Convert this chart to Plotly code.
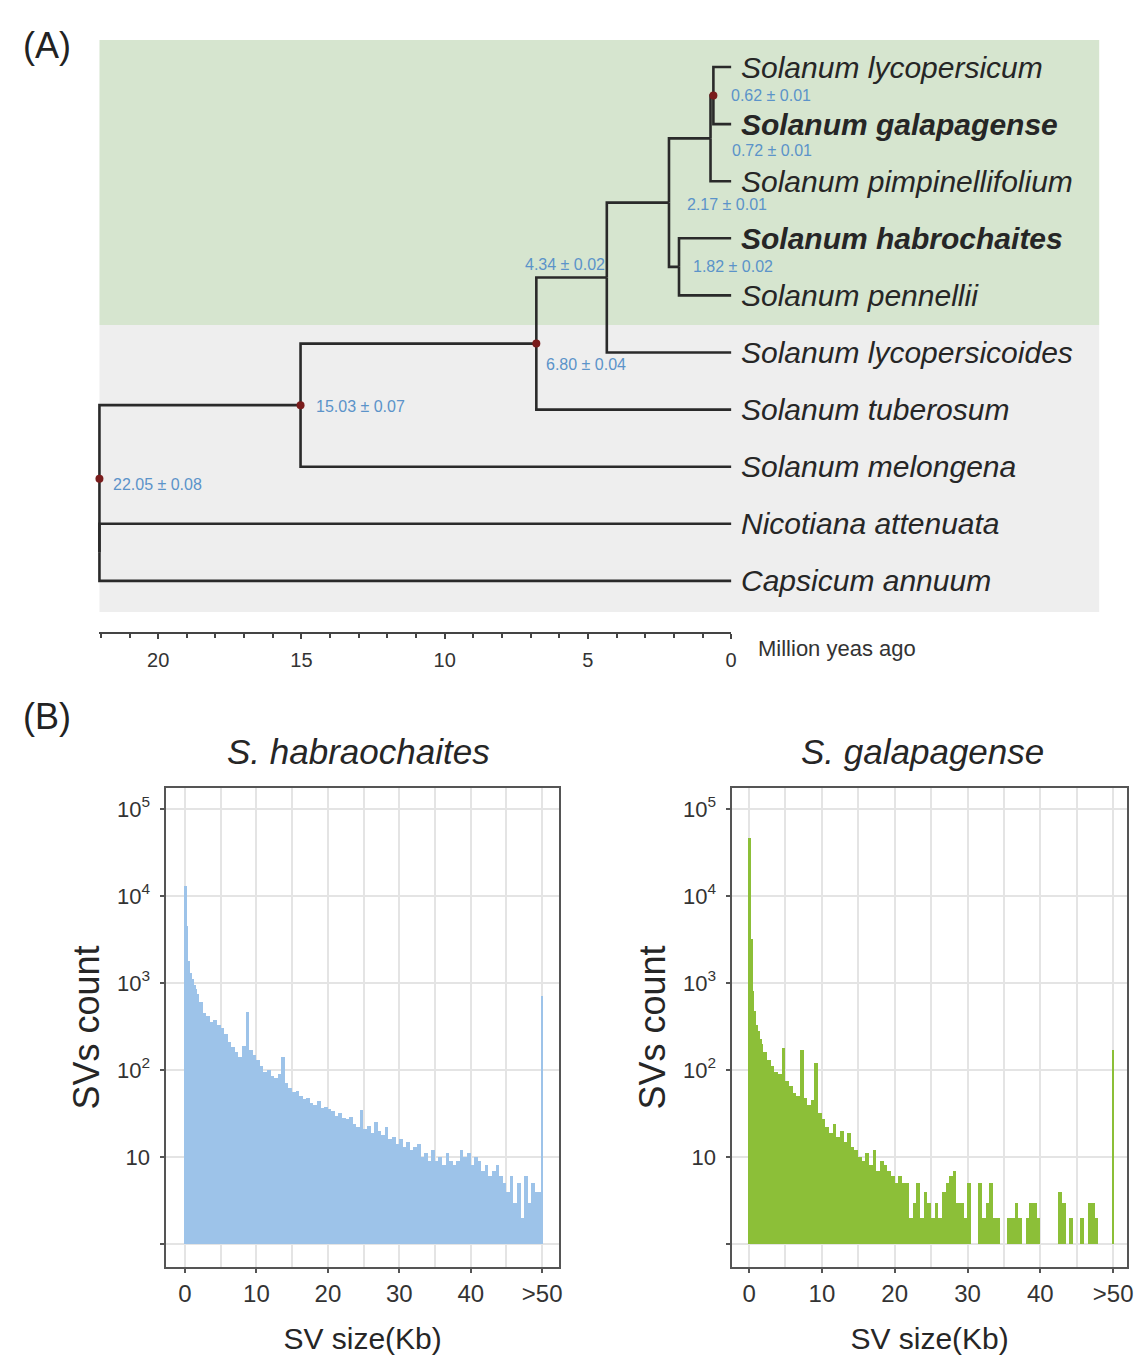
import plotly.graph_objects as go

W, H = 1145, 1361
FONT = "Liberation Sans, Arial, sans-serif"

# ---------------- Panel A: dated phylogeny ----------------
tip_names = [
    "Solanum lycopersicum", "Solanum galapagense", "Solanum pimpinellifolium",
    "Solanum habrochaites", "Solanum pennellii", "Solanum lycopersicoides",
    "Solanum tuberosum", "Solanum melongena", "Nicotiana attenuata", "Capsicum annuum",
]
bold_tips = ["Solanum galapagense", "Solanum habrochaites"]

# internal nodes in post-order (children listed before parents)
node_ids = ["n062", "n072", "n182", "n217", "n434", "n680", "n1503", "nout", "root"]
node_age = [0.62, 0.72, 1.82, 2.17, 4.34, 6.80, 15.03, 22.05, 22.05]  # Myr ago
node_err = [0.01, 0.01, 0.02, 0.01, 0.02, 0.04, 0.07, 0.08, 0.08]
node_children = [
    ["Solanum lycopersicum", "Solanum galapagense"],
    ["n062", "Solanum pimpinellifolium"],
    ["Solanum habrochaites", "Solanum pennellii"],
    ["n072", "n182"],
    ["n217", "Solanum lycopersicoides"],
    ["n434", "Solanum tuberosum"],
    ["n680", "Solanum melongena"],
    ["Nicotiana attenuata", "Capsicum annuum"],
    ["n1503", "nout"],
]
node_has_label = [True, True, True, True, True, True, True, False, True]
node_has_dot = [True, False, False, False, False, True, True, False, True]
time_tick_vals = [0, 5, 10, 15, 20]

# ---------------- Panel B: SV size histograms ----------------
bin_left_kb = [i * 0.25 for i in range(8)] + [2 + i * 0.5 for i in range(96)]
hab_counts = [
    13000, 4500, 1800, 1300, 1100, 950, 850, 750,
    600, 450, 420, 360, 380, 330, 300, 260, 210, 185,
    160, 140, 190, 470, 170, 150, 130, 110, 95, 100,
    85, 80, 90, 140, 70, 62, 56, 58, 50, 46,
    48, 42, 40, 44, 37, 38, 36, 34, 30, 32,
    28, 27, 29, 24, 22, 35, 21, 23, 19, 25,
    20, 18, 22, 16, 17, 14, 16, 13, 15, 12,
    13, 14, 10, 11, 9, 12, 9, 10, 8, 11,
    9, 8, 9, 12, 10, 11, 8, 10, 9, 7,
    8, 6, 7, 8, 6, 5, 4, 6, 3, 5,
    2, 6, 3, 5, 4, 4,
]
gal_counts = [
    47000, 3200, 800, 480, 330, 280, 230, 200,
    160, 130, 110, 95, 90, 180, 75, 65, 55, 50,
    170, 48, 40, 45, 120, 32, 27, 22, 19, 24,
    17, 20, 15, 19, 13, 12, 10, 9, 11, 8,
    12, 7, 9, 8, 7, 6, 5, 6, 5, 5,
    2, 3, 5, 2, 4, 3, 2, 3, 2, 4,
    5, 6, 7, 3, 3, 2, 5, 0, 0, 5,
    2, 3, 5, 2, 2, 0, 0, 2, 2, 3,
    2, 0, 2, 3, 3, 2, 0, 0, 0, 0,
    0, 4, 3, 0, 2, 0, 0, 2, 0, 3,
    3, 2, 0, 0, 0, 0,
]
over50_pos = [50]
hab_over50 = [700]
gal_over50 = [170]
x_tick_vals = [0, 10, 20, 30, 40, 50]
x_tick_text = ["0", "10", "20", "30", "40", ">50"]
y_tick_vals = [1, 10, 100, 1000, 10000, 100000]
y_tick_text = ["", "10", "10<sup>2</sup>", "10<sup>3</sup>", "10<sup>4</sup>", "10<sup>5</sup>"]


def px_x(x):
    return x / W


def px_y(y):
    return 1 - y / H


fig = go.Figure()

# ---- tree geometry from the data ----
ages = {n: 0.0 for n in tip_names}
ypos = {n: float(i) for i, n in enumerate(tip_names)}
for nid, age, ch in zip(node_ids, node_age, node_children):
    ages[nid] = age
    ypos[nid] = (ypos[ch[0]] + ypos[ch[-1]]) / 2

lx, ly = [], []
for nid, ch in zip(node_ids, node_children):
    for c in ch:
        lx += [ages[c], ages[nid], ages[nid], None]
        ly += [ypos[c], ypos[c], ypos[nid], None]

fig.add_trace(go.Scatter(x=lx, y=ly, mode="lines", xaxis="x3", yaxis="y3",
                         line=dict(color="#2a2a2a", width=2.6), hoverinfo="skip",
                         showlegend=False))

dx = [ages[n] for n, d in zip(node_ids, node_has_dot) if d]
dy = [ypos[n] for n, d in zip(node_ids, node_has_dot) if d]
fig.add_trace(go.Scatter(x=dx, y=dy, mode="markers", xaxis="x3", yaxis="y3",
                         marker=dict(color="#7a1c1c", size=8), hoverinfo="skip",
                         showlegend=False))

# time scale axis (empty trace to create the subplot)
fig.add_trace(go.Scatter(x=[None], y=[None], xaxis="x4", yaxis="y3", showlegend=False,
                         hoverinfo="skip"))

annotations = []
for n in tip_names:
    txt = f"<i>{n}</i>"
    if n in bold_tips:
        txt = f"<b><i>{n}</i></b>"
    annotations.append(dict(x=0, y=ypos[n], xref="x3", yref="y3", text=txt, showarrow=False,
                            xanchor="left", yanchor="middle", xshift=8,
                            font=dict(size=30, color="#262626", family=FONT)))

label_style = {
    "n062": dict(xanchor="left", xshift=16, yshift=0),
    "n072": dict(xanchor="left", xshift=19, yshift=-12),
    "n182": dict(xanchor="left", xshift=12, yshift=0),
    "n217": dict(xanchor="left", xshift=16, yshift=-2),
    "n434": dict(xanchor="right", xshift=0, yshift=13),
    "n680": dict(xanchor="left", xshift=8, yshift=-21),
    "n1503": dict(xanchor="left", xshift=13, yshift=-1),
    "root": dict(xanchor="left", xshift=12, yshift=-6),
}
for nid, age, err, lab in zip(node_ids, node_age, node_err, node_has_label):
    if not lab:
        continue
    st = label_style[nid]
    annotations.append(dict(x=age, y=ypos[nid], xref="x3", yref="y3",
                            text=f"{age:.2f} ± {err:.2f}", showarrow=False,
                            yanchor="middle", font=dict(size=16, color="#5b93c9", family=FONT),
                            **st))


def paper_text(x, y, text, size, color="#222", xanchor="center"):
    return dict(x=px_x(x), y=px_y(y), xref="paper", yref="paper", text=text,
                showarrow=False, xanchor=xanchor, yanchor="middle",
                font=dict(size=size, color=color, family=FONT))


annotations += [
    paper_text(47, 45, "(A)", 36),
    paper_text(47, 716, "(B)", 36),
    paper_text(760, 648, "Million yeas ago", 22, "#333", "left"),
    paper_text(360, 752, "<i>S. habraochaites</i>", 35, "#262626"),
    paper_text(927, 752, "<i>S. galapagense</i>", 35, "#262626"),
]

shapes = [
    dict(type="rect", xref="paper", yref="paper", x0=px_x(100), x1=px_x(1105),
         y0=px_y(325), y1=px_y(40), fillcolor="#d6e5cf", line=dict(width=0), layer="below"),
    dict(type="rect", xref="paper", yref="paper", x0=px_x(100), x1=px_x(1105),
         y0=px_y(612), y1=px_y(325), fillcolor="#eeeeee", line=dict(width=0), layer="below"),
]

# ---- histograms ----
bin_width = [b - a for a, b in zip(bin_left_kb[:-1], bin_left_kb[1:])] + [0.5]
bin_center = [a + w / 2 for a, w in zip(bin_left_kb, bin_width)]


def bar_len(counts):
    return [c - 1 if c > 0 else None for c in counts]


for counts, over, color, xa, ya in [
    (hab_counts, hab_over50, "#9dc3e9", "x", "y"),
    (gal_counts, gal_over50, "#8cbf38", "x2", "y2"),
]:
    fig.add_trace(go.Bar(x=bin_center, y=bar_len(counts), width=bin_width, base=1,
                         marker=dict(color=color, line=dict(width=0)), xaxis=xa, yaxis=ya,
                         showlegend=False, hoverinfo="skip"))
    fig.add_trace(go.Bar(x=over50_pos, y=bar_len(over), width=0.3, base=1,
                         marker=dict(color=color, line=dict(width=0)), xaxis=xa, yaxis=ya,
                         showlegend=False, hoverinfo="skip"))

hist_y_dom = [px_y(1267), px_y(788)]
y_range = [-0.264, 5.241]


def xaxis_hist(dom, rng, anchor):
    return dict(domain=dom, range=rng, anchor=anchor, tickvals=x_tick_vals, ticktext=x_tick_text,
                ticks="outside", ticklen=4, tickcolor="#555", tickwidth=1.5,
                showline=True, mirror=True, linecolor="#555", linewidth=1.5,
                showgrid=True, gridcolor="#e4e4e4", gridwidth=2, zeroline=False,
                minor=dict(dtick=5, tick0=0, showgrid=True, gridcolor="#e4e4e4", gridwidth=2),
                tickfont=dict(size=24, color="#333", family=FONT),
                title=dict(text="SV size(Kb)", font=dict(size=30, color="#262626", family=FONT),
                           standoff=22),
                automargin=False, fixedrange=True)


def yaxis_hist(anchor):
    return dict(domain=hist_y_dom, type="log", range=y_range, anchor=anchor,
                tickvals=y_tick_vals, ticktext=y_tick_text,
                ticks="outside", ticklen=4, tickcolor="#555", tickwidth=1.5,
                showline=True, mirror=True, linecolor="#555", linewidth=1.5,
                showgrid=True, gridcolor="#e4e4e4", gridwidth=2, zeroline=False,
                ticklabelstandoff=6,
                tickfont=dict(size=22, color="#333", family=FONT),
                title=dict(text="SVs count", font=dict(size=36, color="#262626", family=FONT),
                           standoff=6),
                automargin=False, fixedrange=True)


fig.update_layout(
    width=W, height=H, autosize=False,
    margin=dict(l=0, r=0, t=0, b=0),
    paper_bgcolor="white", plot_bgcolor="rgba(0,0,0,0)",
    barmode="overlay", bargap=0,
    font=dict(family=FONT),
    xaxis=xaxis_hist([px_x(167), px_x(562)], [(167 - 186) / 7.18, (562 - 186) / 7.18], "y"),
    yaxis=yaxis_hist("x"),
    xaxis2=xaxis_hist([px_x(736), px_x(1133)], [(736 - 753) / 7.32, (1133 - 753) / 7.32], "y2"),
    yaxis2=yaxis_hist("x2"),
    xaxis3=dict(domain=[0, 1], range=[735 / 28.8, (735 - 1145) / 28.8], visible=False,
                anchor="y3", fixedrange=True),
    yaxis3=dict(domain=[px_y(690), 1], range=[(690 - 67) / 57.1, -67 / 57.1], visible=False,
                anchor="x3", fixedrange=True),
    xaxis4=dict(domain=[px_x(100), px_x(735)], range=[22.05, 0], anchor="free",
                position=px_y(633), showline=True, linecolor="#444", linewidth=2,
                tickvals=time_tick_vals, ticks="outside", ticklen=5, tickwidth=1.5,
                tickcolor="#444", showgrid=False, zeroline=False,
                minor=dict(dtick=1, tick0=0, ticks="outside", ticklen=4, tickcolor="#444",
                           showgrid=False),
                ticklabelstandoff=4,
                tickfont=dict(size=20, color="#333", family=FONT), fixedrange=True),
    annotations=annotations,
    shapes=shapes,
)

fig.write_html("out.html", config={"displayModeBar": False},
               post_script="document.body.style.margin='0px';")
